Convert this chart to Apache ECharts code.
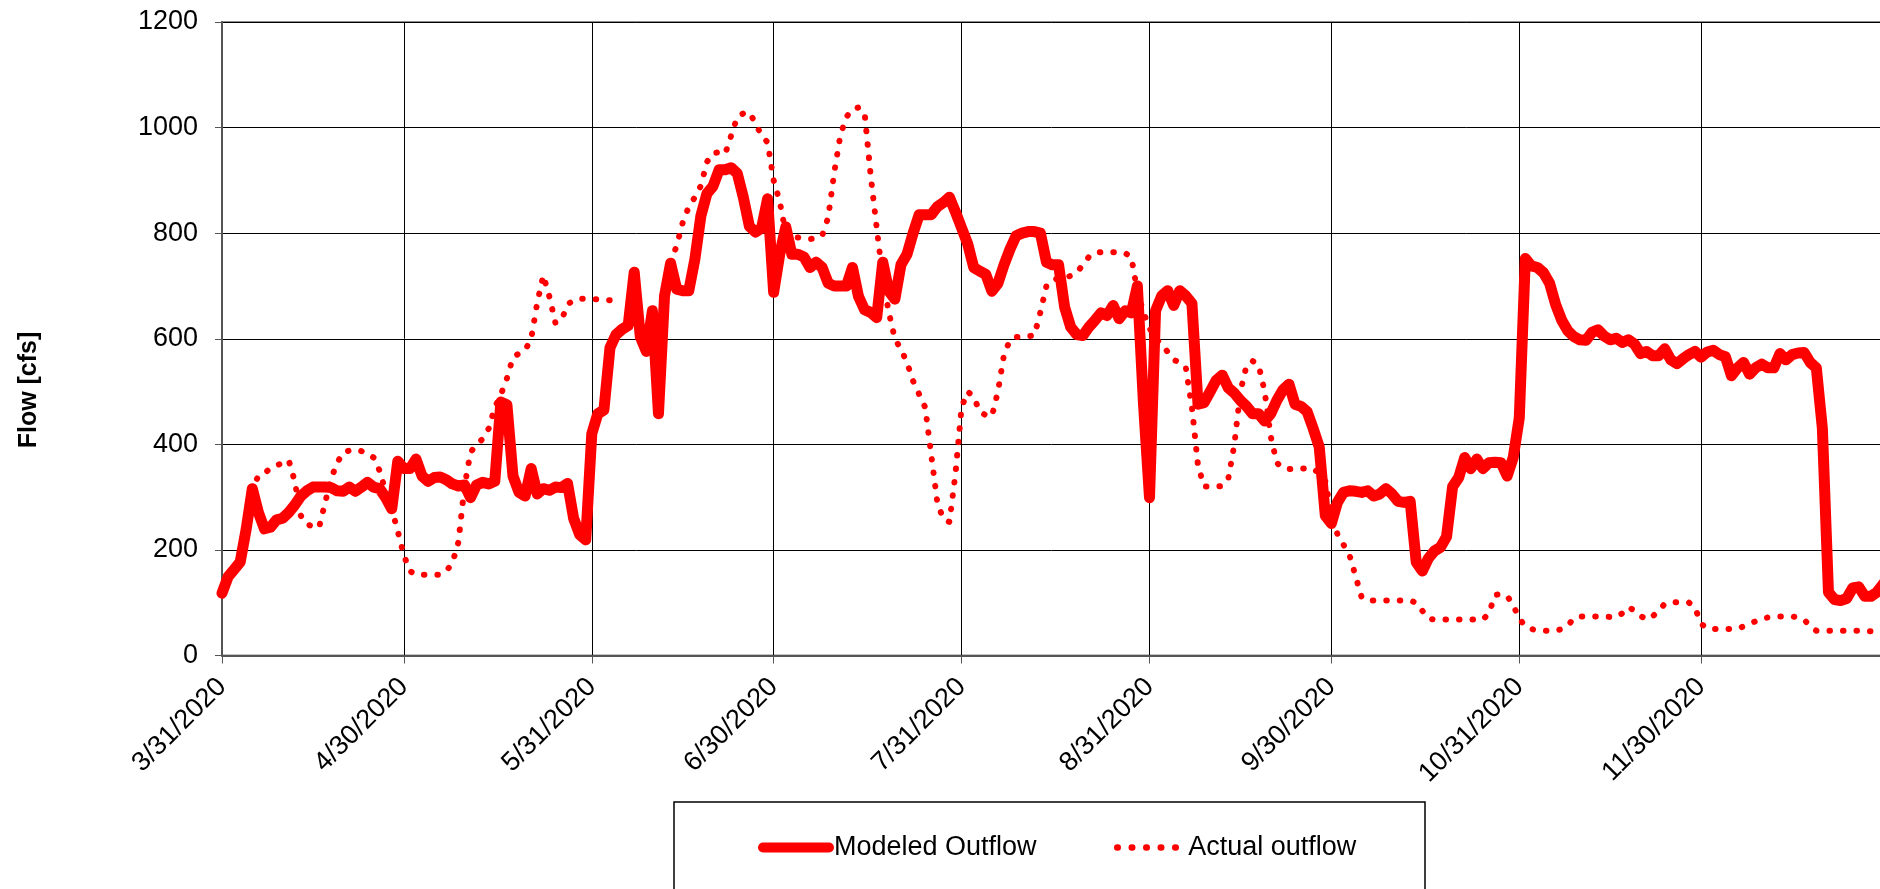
<!DOCTYPE html>
<html>
<head>
<meta charset="utf-8">
<script src="https://cdn.jsdelivr.net/npm/echarts@6/dist/echarts.min.js"></script>
<style>
  html, body { margin: 0; padding: 0; background: #fff; }
  #chart { width: 1880px; height: 889px; }
</style>
</head>
<body>
<div id="chart"></div>
<script>
// daily values, 3/31/2020 .. 12/30/2020
const startDate = '2020-03-31';
const dayCount = 275;

const monthEndLabels = ['3/31/2020', '4/30/2020', '5/31/2020', '6/30/2020', '7/31/2020',
  '8/31/2020', '9/30/2020', '10/31/2020', '11/30/2020'];

const yTicks = { min: 0, max: 1200, step: 200 };

const modeledOutflow = [
  118, 149, 163, 177, 240, 316, 271, 240, 243, 257, 260, 271, 285, 302, 312, 319, 319, 319, 318, 312,
  311, 319, 311, 319, 328, 319, 316, 299, 278, 368, 354, 354, 372, 340, 330, 337, 338, 333, 325, 321,
  323, 299, 323, 328, 325, 330, 480, 475, 340, 309, 302, 354, 306, 316, 313, 319, 318, 326, 260, 229,
  219, 420, 458, 465, 583, 608, 618, 625, 726, 604, 576, 653, 458, 681, 743, 694, 691, 691, 750, 833,
  875, 889, 920, 920, 924, 913, 868, 813, 802, 809, 865, 688, 760, 812, 760, 760, 755, 735, 745, 735,
  705, 700, 700, 700, 735, 680, 655, 650, 640, 745, 690, 675, 740, 760, 800, 835, 835, 835, 850, 858,
  868, 840, 810, 780, 735, 728, 722, 690, 705, 740, 770, 795, 800, 803, 803, 800, 745, 740, 740, 660,
  622, 608, 606, 622, 635, 649, 644, 663, 638, 653, 649, 700, 479, 299, 653, 681, 691, 663, 691, 681,
  667, 476, 479, 500, 521, 531, 507, 497, 483, 472, 458, 458, 444, 458, 483, 503, 514, 476, 472, 462,
  430, 395, 265, 250, 290, 309, 312, 311, 309, 312, 302, 306, 316, 306, 292, 290, 292, 177, 160, 184,
  198, 205, 225, 320, 337, 375, 354, 372, 354, 365, 366, 365, 340, 375, 450, 752, 738, 735, 725, 705,
  665, 635, 615, 604, 598, 597, 612, 617, 605, 598, 601, 593, 598, 590, 572, 576, 568, 568, 581, 560,
  553, 562, 570, 576, 565, 575, 578, 570, 566, 530, 545, 555, 533, 545, 552, 545, 545, 572, 560, 570,
  573, 574, 555, 545, 430, 120, 106, 104, 108, 128, 130, 112, 112, 120, 135
];

const actualOutflow = [
  118, 149, 163, 180, 240, 316, 340, 345, 355, 360, 365, 370, 330, 265, 248, 245, 242, 289, 335, 365,
  385, 388, 390, 387, 383, 375, 350, 310, 278, 235, 190, 160, 153, 153, 153, 153, 153, 160, 175, 215,
  320, 385, 400, 410, 430, 470, 494, 525, 565, 572, 578, 600, 668, 720, 680, 630, 635, 665, 673, 676,
  676, 675, 675, 674, 673, 672, 672, null, null, null, null, null, null, null, 745, 776, 820, 850, 868, 890,
  935, 952, 953, 950, 985, 1020, 1027, 1029, 1008, 985, 972, 900, 860, 800, 792, 792, 790, 789, 790, 795,
  830, 915, 985, 1020, 1035, 1038, 1028, 910, 810, 715, 650, 600, 580, 555, 520, 495, 470, 380, 290, 258,
  253, 345, 470, 500, 490, 462, 455, 453, 500, 570, 598, 603, 604, 605, 606, 650, 700, 712, 714, 716,
  719, 725, 740, 755, 763, 764, 764, 764, 764, 762, 755, 690, 650, 620, 600, 590, 575, 560, 555, 545,
  470, 360, 320, 320, 320, 321, 335, 400, 500, 549, 558, 550, 500, 415, 365, 355, 353, 354, 354, 354,
  354, 345, 330, 270, 230, 210, 190, 150, 110, 104, 104, 104, 104, 104, 104, 104, 104, 100, 85, 70,
  68, 68, 68, 68, 68, 68, 68, 68, 68, 80, 115, 116, 113, 95, 70, 55, 50, 48, 47, 47,
  47, 50, 57, 70, 74, 74, 74, 74, 74, 73, 73, 80, 92, 85, 75, 68, 74, 85, 98, 100,
  101, 100, 100, 90, 60, 51, 50, 50, 50, 50, 51, 55, 60, 65, 70, 72, 74, 74, 74, 74,
  72, 68, 55, 47, 47, 47, 47, 47, 47, 47, 47, 46, 46, 46, 46
];

const dates = [];
const d0 = new Date(startDate + 'T12:00:00');
for (let i = 0; i < dayCount; i++) {
  const d = new Date(d0.getTime() + i * 86400000);
  dates.push((d.getMonth() + 1) + '/' + d.getDate() + '/' + d.getFullYear());
}

const isMonthEnd = (index, value) => monthEndLabels.indexOf(value) !== -1;

const FONT = "'Liberation Sans', Arial, sans-serif";

const chart = echarts.init(document.getElementById('chart'), null, { renderer: 'canvas' });

chart.setOption({
  animation: false,
  backgroundColor: '#fff',
  grid: {
    left: 222,
    top: 22,
    right: -3,
    bottom: 233.5,
    show: true,
    borderColor: '#8c8c8c',
    borderWidth: 2,
    containLabel: false,
    outerBoundsMode: 'none'
  },
  xAxis: {
    type: 'category',
    data: dates,
    boundaryGap: false,
    axisLine: { lineStyle: { color: '#555', width: 2 } },
    axisTick: { show: true, interval: isMonthEnd, length: 8, lineStyle: { color: '#555', width: 1 } },
    axisLabel: {
      interval: isMonthEnd,
      rotate: 45,
      margin: 27,
      color: '#000',
      fontSize: 27,
      fontFamily: FONT
    },
    splitLine: { show: true, interval: isMonthEnd, lineStyle: { color: '#000', width: 1 } }
  },
  yAxis: {
    type: 'value',
    min: yTicks.min,
    max: yTicks.max,
    interval: yTicks.step,
    axisLine: { show: true, lineStyle: { color: '#555', width: 2 } },
    axisTick: { show: true, length: 7, lineStyle: { color: '#555', width: 1 } },
    axisLabel: {
      color: '#000',
      fontSize: 27,
      fontFamily: FONT,
      margin: 24,
      formatter: (v) => String(v)
    },
    splitLine: { show: true, lineStyle: { color: '#000', width: 1 } }
  },
  legend: [
    {
      data: ['Modeled Outflow'],
      left: 758,
      top: 834,
      padding: 0,
      itemWidth: 66,
      itemHeight: 26,
      selectedMode: false,
      textStyle: { color: '#000', fontSize: 27, fontFamily: FONT },
      itemStyle: { color: 'rgba(0,0,0,0)', opacity: 0, borderWidth: 0 },
      lineStyle: { width: 10, color: '#ff0000', cap: 'round', type: 'solid' }
    },
    {
      data: ['Actual outflow'],
      left: 1114,
      top: 834,
      padding: 0,
      itemWidth: 66,
      itemHeight: 26,
      selectedMode: false,
      textStyle: { color: '#000', fontSize: 27, fontFamily: FONT },
      itemStyle: { color: 'rgba(0,0,0,0)', opacity: 0, borderWidth: 0 },
      lineStyle: { width: 6.5, color: '#ff0000', cap: 'round', type: [0.5, 14] }
    }
  ],
  graphic: [
    {
      type: 'rect',
      shape: { x: 674, y: 802, width: 751, height: 120 },
      style: { fill: 'none', stroke: '#000', lineWidth: 1.5 },
      silent: true
    },
    {
      type: 'text',
      x: 29,
      y: 390,
      rotation: Math.PI / 2,
      style: {
        text: 'Flow [cfs]',
        fill: '#000',
        font: "bold 25px " + FONT,
        textAlign: 'center',
        textVerticalAlign: 'middle'
      }
    }
  ],
  series: [
    {
      name: 'Actual outflow',
      type: 'line',
      data: actualOutflow,
      symbol: 'none',
      connectNulls: false,
      lineStyle: { color: '#ff0000', width: 6, type: [0.5, 13], cap: 'round', join: 'round' },
      itemStyle: { color: '#ff0000' }
    },
    {
      name: 'Modeled Outflow',
      type: 'line',
      data: modeledOutflow,
      symbol: 'none',
      lineStyle: { color: '#ff0000', width: 11, cap: 'round', join: 'round' },
      itemStyle: { color: '#ff0000' }
    }
  ]
});
</script>
</body>
</html>
